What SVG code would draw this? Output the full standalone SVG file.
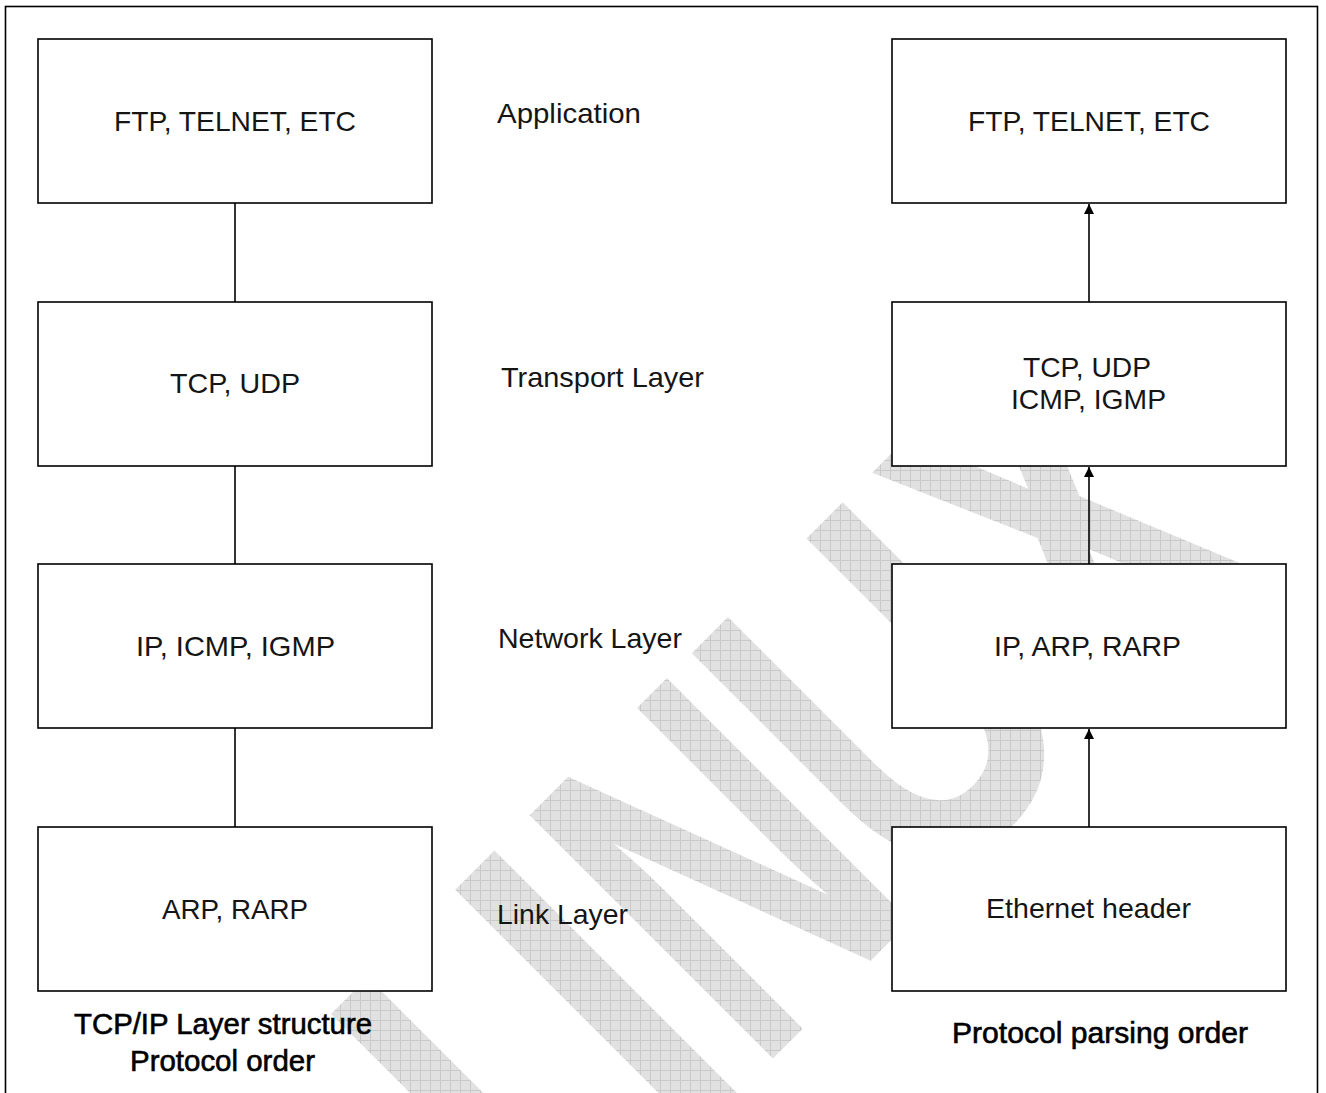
<svg xmlns="http://www.w3.org/2000/svg" width="1326" height="1093" viewBox="0 0 1326 1093">
  <style>
    .box{fill:#fff;stroke:#000;stroke-width:1.6}
    .lbl{font-family:"Liberation Sans",Arial,sans-serif;font-size:28px;fill:#151515}
    .cap{font-family:"Liberation Sans",Arial,sans-serif;font-size:29px;fill:#000;stroke:#000;stroke-width:0.6}
    .link{stroke:#000;stroke-width:1.6;fill:none}
    .frame{fill:none;stroke:#000;stroke-width:1.6}
    .wm{font-family:"Liberation Sans",Arial,sans-serif;font-weight:bold;font-size:500px;fill:#fff}
  </style>
  <defs>
    <!-- light gray grid used for the background watermark -->
    <pattern id="grid" width="10" height="10" patternUnits="userSpaceOnUse">
      <rect width="10" height="10" fill="#e1e1e1"/>
      <path d="M0 0.5H10M0.5 0V10" stroke="#c9c9c9" stroke-width="1"/>
    </pattern>
    <!-- watermark letters, laid along a 45 degree baseline -->
    <mask id="wmMask" maskUnits="userSpaceOnUse" x="0" y="0" width="1326" height="1093">
      <rect width="1326" height="1093" fill="#000"/>
      <g transform="rotate(-45)">
        <text class="wm" transform="translate(-507 1295) scale(0.72 1)">L</text>
        <text class="wm" transform="translate(-333 1295) scale(0.77 1)">I</text>
        <text class="wm" transform="translate(-224 1295) scale(0.66 1)">N</text>
        <text class="wm" transform="translate(6 1295) scale(0.71 1)">U</text>
        <text class="wm" transform="translate(273 1295) scale(0.65 1)">X</text>
      </g>
    </mask>
    <marker id="arrow" markerUnits="userSpaceOnUse" markerWidth="10" markerHeight="10" refX="10" refY="5" orient="auto">
      <path d="M0 0L10 5L0 10z" fill="#000"/>
    </marker>
  </defs>

  <rect width="1326" height="1093" fill="#fff"/>
  <!-- watermark -->
  <rect id="watermark" width="1326" height="1093" fill="url(#grid)" mask="url(#wmMask)"/>

  <!-- outer frame (open at the bottom edge) -->
  <rect class="frame" x="5.5" y="6.5" width="1312" height="1110"/>

  <!-- connectors -->
  <g id="connectors">
    <line class="link" x1="235" y1="203" x2="235" y2="302"/>
    <line class="link" x1="235" y1="466" x2="235" y2="564"/>
    <line class="link" x1="235" y1="728" x2="235" y2="827"/>
    <line class="link" x1="1089" y1="302" x2="1089" y2="204" marker-end="url(#arrow)"/>
    <line class="link" x1="1089" y1="564" x2="1089" y2="467" marker-end="url(#arrow)"/>
    <line class="link" x1="1089" y1="827" x2="1089" y2="729" marker-end="url(#arrow)"/>
  </g>

  <!-- left column: TCP/IP layer structure -->
  <g id="left-app">
    <rect class="box" x="38" y="39" width="394" height="164"/>
    <text class="lbl" x="114" y="131" textLength="242" lengthAdjust="spacingAndGlyphs">FTP, TELNET, ETC</text>
  </g>
  <g id="left-transport">
    <rect class="box" x="38" y="302" width="394" height="164"/>
    <text class="lbl" x="170" y="393" textLength="130" lengthAdjust="spacingAndGlyphs">TCP, UDP</text>
  </g>
  <g id="left-network">
    <rect class="box" x="38" y="564" width="394" height="164"/>
    <text class="lbl" x="136" y="656" textLength="199" lengthAdjust="spacingAndGlyphs">IP, ICMP, IGMP</text>
  </g>
  <g id="left-link">
    <rect class="box" x="38" y="827" width="394" height="164"/>
    <text class="lbl" x="162" y="919" textLength="146" lengthAdjust="spacingAndGlyphs">ARP, RARP</text>
  </g>

  <!-- layer names -->
  <g id="layer-names">
    <text id="lbl-application" class="lbl" x="497" y="123" textLength="144" lengthAdjust="spacingAndGlyphs">Application</text>
    <text id="lbl-transport" class="lbl" x="501" y="387" textLength="203" lengthAdjust="spacingAndGlyphs">Transport Layer</text>
    <text id="lbl-network" class="lbl" x="498" y="648" textLength="184" lengthAdjust="spacingAndGlyphs">Network Layer</text>
    <text id="lbl-link" class="lbl" x="497" y="924" textLength="131" lengthAdjust="spacingAndGlyphs">Link Layer</text>
  </g>

  <!-- right column: protocol parsing order -->
  <g id="right-app">
    <rect class="box" x="892" y="39" width="394" height="164"/>
    <text class="lbl" x="968" y="131" textLength="242" lengthAdjust="spacingAndGlyphs">FTP, TELNET, ETC</text>
  </g>
  <g id="right-transport">
    <rect class="box" x="892" y="302" width="394" height="164"/>
    <text class="lbl" x="1023" y="377" textLength="128" lengthAdjust="spacingAndGlyphs">TCP, UDP</text>
    <text class="lbl" x="1011" y="409" textLength="155" lengthAdjust="spacingAndGlyphs">ICMP, IGMP</text>
  </g>
  <g id="right-network">
    <rect class="box" x="892" y="564" width="394" height="164"/>
    <text class="lbl" x="994" y="656" textLength="187" lengthAdjust="spacingAndGlyphs">IP, ARP, RARP</text>
  </g>
  <g id="right-link">
    <rect class="box" x="892" y="827" width="394" height="164"/>
    <text class="lbl" x="986" y="918" textLength="205" lengthAdjust="spacingAndGlyphs">Ethernet header</text>
  </g>

  <!-- captions -->
  <g id="captions">
    <text class="cap" x="74" y="1034" textLength="298" lengthAdjust="spacingAndGlyphs">TCP/IP Layer structure</text>
    <text class="cap" x="130" y="1071" textLength="185" lengthAdjust="spacingAndGlyphs">Protocol order</text>
    <text class="cap" x="952" y="1043" textLength="296" lengthAdjust="spacingAndGlyphs">Protocol parsing order</text>
  </g>
</svg>
